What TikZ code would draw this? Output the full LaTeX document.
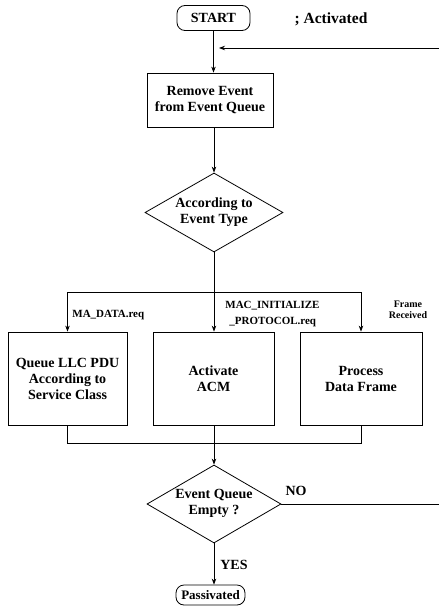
\documentclass[tikz,border=0pt]{standalone}
\usepackage{fontspec}
\setmainfont{Liberation Serif}
\usetikzlibrary{shapes.geometric,arrows.meta}
\begin{document}
\begin{tikzpicture}[x=1pt,y=-1pt,
  line width=0.8pt,
  arr/.style={-{Stealth[length=6pt,width=4.5pt]}},
  txt/.style={font=\fontsize{14}{16}\selectfont\bfseries,align=center,inner sep=0pt},
  procbox/.style={draw,rectangle,inner sep=0pt,font=\fontsize{14}{16}\selectfont\bfseries,align=center},
  termbox/.style={draw,rectangle,rounded corners=8pt,inner sep=0pt,font=\fontsize{14}{16}\selectfont\bfseries},
  dia/.style={draw,diamond,inner sep=0pt},
  small/.style={font=\fontsize{11}{16}\selectfont\bfseries,inner sep=0pt},
  tiny/.style={font=\fontsize{10}{10.5}\selectfont\bfseries,align=center,inner sep=0pt}
]
\useasboundingbox (0,0) rectangle (439,613);

\node[termbox,minimum width=73pt,minimum height=25pt] (start) at (213.5,18) {START};
\node[txt,font=\fontsize{15.5}{17}\selectfont\bfseries] (act) at (331,19) {; Activated};

\node[procbox,minimum width=126pt,minimum height=54pt] (remove) at (210,100) {Remove Event\\from Event Queue};

\node[dia,minimum width=138pt,minimum height=79pt] (d1) at (214,212.5) {};
\node[txt] (d1t) at (214,212) {According to\\Event Type};

\coordinate (br) at (214,292);

\node[procbox,minimum width=119pt,minimum height=93pt] (q1) at (67.5,378.5) {Queue LLC PDU\\According to\\Service Class};
\node[procbox,minimum width=121pt,minimum height=93pt] (q2) at (213.5,378.5) {Activate\\ACM};
\node[procbox,minimum width=122pt,minimum height=93pt] (q3) at (361,378.5) {Process\\Data Frame};

\node[small,anchor=west] (l1) at (72,315) {MA\_DATA.req};
\node[small,anchor=west,align=left] (l2) at (225,314.5) {MAC\_INITIALIZE\\\hspace*{4pt}\_PROTOCOL.req};
\node[tiny] (l3) at (408,310) {Frame\\Received};

\coordinate (mg) at (214,443);

\node[dia,minimum width=134pt,minimum height=78pt] (d2) at (214,504) {};
\node[txt] (d2t) at (214,503) {Event Queue\\Empty ?};

\node[txt] (no) at (296,491) {NO};
\node[txt] (yes) at (234,565) {YES};

\node[termbox,minimum width=69pt,minimum height=20pt,font=\fontsize{13}{15}\selectfont\bfseries] (pass) at (210.5,595) {Passivated};

\coordinate (loopin) at (439,48);
\coordinate (loopend) at (219,48);
\coordinate (noend) at (439,504);

% connectors
\draw[arr] (start) -- (start.south |- remove.north);
\draw[arr] (loopin) -- (loopend);
\draw[arr] (remove.south -| d1.north) -- (d1.north);
\draw (d1.south) -- (br);
\draw[arr] (br) -| (q1.north);
\draw[arr] (br) -| (q3.north);
\draw[arr] (br) -- (br |- q2.north);
\draw (q1.south) |- (mg);
\draw (q3.south) |- (mg);
\draw[arr] (q2.south -| d2.north) -- (d2.north);
\draw (d2.east) -- (noend);
\draw[arr] (d2.south) -- (d2.south |- pass.north);
\end{tikzpicture}
\end{document}
